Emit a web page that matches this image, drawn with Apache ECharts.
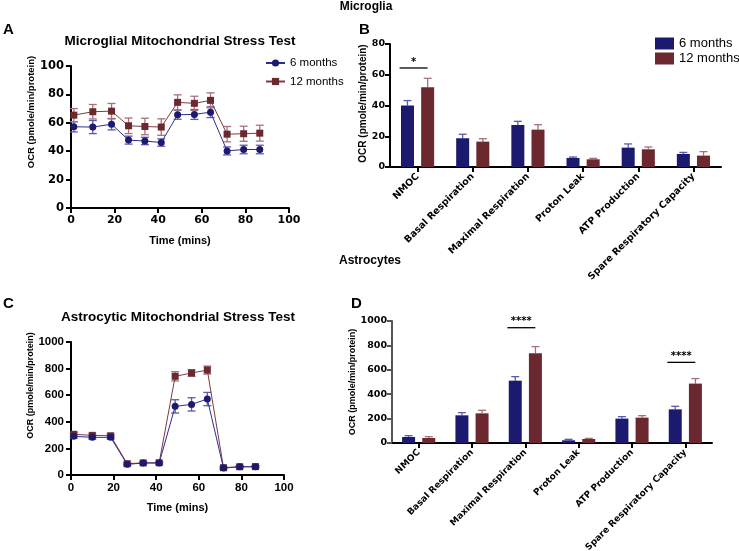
<!DOCTYPE html>
<html><head><meta charset="utf-8">
<script src="https://cdn.jsdelivr.net/npm/echarts@6/dist/echarts.min.js"></script>
<style>html,body{margin:0;padding:0;background:#fff}#c{width:739px;height:551px}</style>
</head><body><div id="c"></div>
<script>
// ---- data ----
const timeMins = [1.3, 10, 18.6, 26.4, 33.9, 41.4, 48.9, 56.6, 64, 71.6, 79.2, 86.6];
const microglia6 = [57.2, 57, 59, 47.8, 47.2, 46.1, 65.7, 65.9, 67.5, 40.2, 41.2, 41.2];
const microglia6Err = [3.6, 4.6, 4, 2.8, 2.6, 2.6, 3.2, 3.5, 3.8, 2.8, 3, 3];
const microglia12 = [65.4, 67.8, 68.2, 57.9, 57.4, 57, 74.4, 73.7, 75.8, 52, 52.3, 52.7];
const microglia12Err = [4.6, 5.1, 5.4, 5.5, 5.8, 5.8, 5.3, 5, 5.3, 5.4, 5.3, 5.6];
const astro6 = [291, 283, 283, 80, 90, 90, 516, 531, 571, 52, 62, 62];
const astro6Err = [15, 14, 14, 10, 8, 8, 50, 50, 50, 8, 8, 8];
const astro12 = [306, 298, 295, 85, 91, 92, 742, 767, 789, 55, 62, 63];
const astro12Err = [15, 12, 12, 8, 8, 8, 35, 25, 30, 8, 8, 8];

const paramCats = ['NMOC', 'Basal Respiration', 'Maximal Respiration', 'Proton Leak', 'ATP Production', 'Spare Respiratory Capacity'];
const mgBar6 = [40, 18.7, 27.3, 5.9, 12.6, 8.5];
const mgBar6Err = [3.2, 2.6, 2.4, 0.6, 2.4, 1];
const mgBar12 = [51.8, 16.5, 24.3, 5, 11.5, 7.4];
const mgBar12Err = [5.9, 1.9, 3.2, 0.6, 1.5, 2.6];
const asBar6 = [49, 227, 511, 22, 200, 276];
const asBar6Err = [11, 22, 33, 8, 16, 25];
const asBar12 = [41, 243, 735, 33, 208, 487];
const asBar12Err = [11, 25, 55, 5, 16, 41];

const sigMicroglia = [[0, 64.4, '*']];
const sigAstro = [[2, 945, '****'], [5, 661, '****']];

const seriesNames = ['6 months', '12 months'];

// ---- styles ----
const BLUE = '#1c1a6e', RED = '#6b282e';
const BLUE_LINE = '#2f2d92', RED_LINE = '#7e3a40';
const BLUE_ERR = '#5c5aac', RED_ERR = '#a8707a';
const ARIAL = '"Liberation Sans", Arial, sans-serif';
const DEJA = '"DejaVu Sans", sans-serif';

const zip = (a, b, c) => a.map((v, i) => [v, b[i], c[i]]);
const idxZip = (b, c) => b.map((v, i) => [i, v, c[i]]);

function lineErr(color) {
  return function (params, api) {
    const x = api.value(0), y = api.value(1), e = api.value(2);
    const t = api.coord([x, y + e]), b = api.coord([x, y - e]);
    const w = 4;
    const st = { stroke: color, lineWidth: 1.3 };
    return { type: 'group', children: [
      { type: 'line', shape: { x1: t[0], y1: t[1], x2: b[0], y2: b[1] }, style: st },
      { type: 'line', shape: { x1: t[0] - w, y1: t[1], x2: t[0] + w, y2: t[1] }, style: st },
      { type: 'line', shape: { x1: b[0] - w, y1: b[1], x2: b[0] + w, y2: b[1] }, style: st }
    ]};
  };
}
function barErr(color, off) {
  return function (params, api) {
    const x = api.value(0), y = api.value(1), e = api.value(2);
    const m = api.coord([x, y]), t = api.coord([x, y + e]);
    const cx = m[0] + off, w = 4;
    const st = { stroke: color, lineWidth: 1.3 };
    return { type: 'group', children: [
      { type: 'line', shape: { x1: cx, y1: m[1], x2: cx, y2: t[1] }, style: st },
      { type: 'line', shape: { x1: cx - w, y1: t[1], x2: cx + w, y2: t[1] }, style: st }
    ]};
  };
}
function sigRender(list) {
  return function (params, api) {
    const x = api.value(0), y = api.value(1);
    const p = api.coord([x, y]);
    return { type: 'group', children: [
      { type: 'line', shape: { x1: p[0] - 18, y1: p[1], x2: p[0] + 10, y2: p[1] }, style: { stroke: '#000', lineWidth: 1.3 } },
      { type: 'text', style: { text: list[params.dataIndex][2], x: p[0] - 4, y: p[1] - 1, align: 'center', verticalAlign: 'bottom', font: 'bold 10px ' + DEJA, fill: '#000' } }
    ]};
  };
}

const axLine = (c) => ({ show: true, lineStyle: { color: c || '#000', width: 2 } });
const axTick = (c) => ({ show: true, length: 5, lineStyle: { color: c || '#000', width: 2 } });
const plain = (v) => String(v);
function valAxis(grid, min, max, interval, label, name, nameGap, nameSize, shiftUp, color) {
  return { type: 'value', gridIndex: grid, min: min, max: max, interval: interval,
    axisLine: axLine(color), axisTick: axTick(color), splitLine: { show: false },
    axisLabel: Object.assign({ color: '#000', fontWeight: 'bold', margin: 7, formatter: plain }, label),
    name: name, nameLocation: 'middle', nameGap: nameGap,
    nameTextStyle: { fontFamily: ARIAL, fontWeight: 'bold', fontSize: nameSize, color: '#000',
      padding: [0, 0, 0, shiftUp ? shiftUp * 2 : 0] } };
}
const tStyle = (size) => ({ fontFamily: ARIAL, fontWeight: 'bold', fontSize: size, color: '#000' });

const chart = echarts.init(document.getElementById('c'), null, { renderer: 'canvas' });
const option = {
  backgroundColor: '#fff',
  animation: false,
  title: [
    { text: 'Microglia', left: 366, top: 1, textAlign: 'center', padding: 0, textStyle: tStyle(12) },
    { text: 'Astrocytes', left: 370, top: 255, textAlign: 'center', padding: 0, textStyle: tStyle(12) },
    { text: 'A', left: 3, top: 22, padding: 0, textStyle: tStyle(15) },
    { text: 'B', left: 359, top: 22, padding: 0, textStyle: tStyle(15) },
    { text: 'C', left: 3, top: 296, padding: 0, textStyle: tStyle(15) },
    { text: 'D', left: 351, top: 296, padding: 0, textStyle: tStyle(15) },
    { text: 'Microglial Mitochondrial Stress Test', left: 180, top: 34, textAlign: 'center', padding: 0, textStyle: tStyle(13.5) },
    { text: 'Astrocytic Mitochondrial Stress Test', left: 178, top: 310, textAlign: 'center', padding: 0, textStyle: tStyle(13.5) }
  ],
  legend: [
    { data: seriesNames, orient: 'vertical', left: 265, top: 57, padding: 0, itemWidth: 19, itemHeight: 9, itemGap: 6.5, selectedMode: false,
      textStyle: { fontFamily: ARIAL, fontSize: 11.5, color: '#000' } },
    { data: [{ name: seriesNames[0], icon: 'rect' }, { name: seriesNames[1], icon: 'rect' }], orient: 'vertical', left: 655, top: 37, padding: 0,
      itemWidth: 19, itemHeight: 12, itemGap: 2, selectedMode: false,
      textStyle: { fontFamily: ARIAL, fontSize: 13, color: '#000' } }
  ],
  grid: [
    { left: 71, top: 66, width: 218, height: 142, outerBoundsMode: 'none', containLabel: false },
    { left: 390, top: 44, width: 331, height: 123, outerBoundsMode: 'none', containLabel: false },
    { left: 71, top: 342, width: 213, height: 133, outerBoundsMode: 'none', containLabel: false },
    { left: 392, top: 321, width: 320, height: 122, outerBoundsMode: 'none', containLabel: false }
  ],
  xAxis: [
    valAxis(0, 0, 100, 20, { fontFamily: DEJA, fontSize: 11, margin: 7 }, 'Time (mins)', 27, 11),
    { type: 'category', gridIndex: 1, data: paramCats, axisLine: axLine(), axisTick: Object.assign(axTick(), { alignWithLabel: true }),
      axisLabel: { rotate: 45, interval: 0, fontFamily: DEJA, fontWeight: 'bold', fontSize: 9.5, color: '#000', margin: 8 } },
    valAxis(2, 0, 100, 20, { fontFamily: ARIAL, fontSize: 11.5, margin: 7 }, 'Time (mins)', 27, 11),
    { type: 'category', gridIndex: 3, data: paramCats, axisLine: axLine(), axisTick: Object.assign(axTick(), { alignWithLabel: true }),
      axisLabel: { rotate: 45, interval: 0, fontFamily: DEJA, fontWeight: 'bold', fontSize: 9, color: '#000', margin: 8 } }
  ],
  yAxis: [
    valAxis(0, 0, 100, 20, { fontFamily: DEJA, fontSize: 11.5 }, 'OCR (pmole/min/protein)', 22, 9.5, 25),
    valAxis(1, 0, 80, 20, { fontFamily: DEJA, fontSize: 9.5, margin: 5 }, 'OCR (pmole/min/protein)', 11, 10, 2),
    valAxis(2, 0, 1000, 200, { fontFamily: ARIAL, fontSize: 11.5 }, 'OCR (pmole/min/protein)', 36, 9, 23),
    valAxis(3, 0, 1000, 200, { fontFamily: DEJA, fontSize: 9.5, margin: 5 }, 'OCR (pmole/min/protein)', 17, 9, 0, '#555')
  ],
  series: [
    { type: 'line', name: seriesNames[0], xAxisIndex: 0, yAxisIndex: 0, data: timeMins.map((t, i) => [t, microglia6[i]]),
      symbol: 'circle', symbolSize: 7, itemStyle: { color: BLUE }, lineStyle: { color: BLUE_LINE, width: 1 }, z: 4 },
    { type: 'line', name: seriesNames[1], xAxisIndex: 0, yAxisIndex: 0, data: timeMins.map((t, i) => [t, microglia12[i]]),
      symbol: 'rect', symbolSize: 7, itemStyle: { color: RED }, lineStyle: { color: RED_LINE, width: 1 }, z: 4 },
    { type: 'custom', name: 'errA6', xAxisIndex: 0, yAxisIndex: 0, data: zip(timeMins, microglia6, microglia6Err), encode: { x: 0, y: 1 }, renderItem: lineErr(BLUE_ERR), z: 3 },
    { type: 'custom', name: 'errA12', xAxisIndex: 0, yAxisIndex: 0, data: zip(timeMins, microglia12, microglia12Err), encode: { x: 0, y: 1 }, renderItem: lineErr(RED_ERR), z: 3 },
    { type: 'line', name: seriesNames[0], xAxisIndex: 2, yAxisIndex: 2, data: timeMins.map((t, i) => [t, astro6[i]]),
      symbol: 'circle', symbolSize: 7, itemStyle: { color: BLUE }, lineStyle: { color: BLUE_LINE, width: 1 }, z: 5 },
    { type: 'line', name: seriesNames[1], xAxisIndex: 2, yAxisIndex: 2, data: timeMins.map((t, i) => [t, astro12[i]]),
      symbol: 'rect', symbolSize: 7, itemStyle: { color: RED }, lineStyle: { color: RED_LINE, width: 1 }, z: 4 },
    { type: 'custom', name: 'errC6', xAxisIndex: 2, yAxisIndex: 2, data: zip(timeMins, astro6, astro6Err), encode: { x: 0, y: 1 }, renderItem: lineErr(BLUE_ERR), z: 3 },
    { type: 'custom', name: 'errC12', xAxisIndex: 2, yAxisIndex: 2, data: zip(timeMins, astro12, astro12Err), encode: { x: 0, y: 1 }, renderItem: lineErr(RED_ERR), z: 3 },
    { type: 'bar', name: seriesNames[0], xAxisIndex: 1, yAxisIndex: 1, data: mgBar6, barWidth: 13, barGap: '55%', itemStyle: { color: BLUE }, z: 2 },
    { type: 'bar', name: seriesNames[1], xAxisIndex: 1, yAxisIndex: 1, data: mgBar12, barWidth: 13, barGap: '55%', itemStyle: { color: RED }, z: 2 },
    { type: 'custom', name: 'errB6', xAxisIndex: 1, yAxisIndex: 1, data: idxZip(mgBar6, mgBar6Err), encode: { x: 0, y: 1 }, renderItem: barErr(BLUE_ERR, -10.1), z: 1 },
    { type: 'custom', name: 'errB12', xAxisIndex: 1, yAxisIndex: 1, data: idxZip(mgBar12, mgBar12Err), encode: { x: 0, y: 1 }, renderItem: barErr(RED_ERR, 10.1), z: 1 },
    { type: 'custom', name: 'sigB', xAxisIndex: 1, yAxisIndex: 1, data: sigMicroglia.map(s => [s[0], s[1]]), encode: { x: 0, y: 1 }, renderItem: sigRender(sigMicroglia), z: 5 },
    { type: 'bar', name: seriesNames[0], xAxisIndex: 3, yAxisIndex: 3, data: asBar6, barWidth: 13, barGap: '55%', itemStyle: { color: BLUE }, z: 2 },
    { type: 'bar', name: seriesNames[1], xAxisIndex: 3, yAxisIndex: 3, data: asBar12, barWidth: 13, barGap: '55%', itemStyle: { color: RED }, z: 2 },
    { type: 'custom', name: 'errD6', xAxisIndex: 3, yAxisIndex: 3, data: idxZip(asBar6, asBar6Err), encode: { x: 0, y: 1 }, renderItem: barErr(BLUE_ERR, -10.1), z: 1 },
    { type: 'custom', name: 'errD12', xAxisIndex: 3, yAxisIndex: 3, data: idxZip(asBar12, asBar12Err), encode: { x: 0, y: 1 }, renderItem: barErr(RED_ERR, 10.1), z: 1 },
    { type: 'custom', name: 'sigD', xAxisIndex: 3, yAxisIndex: 3, data: sigAstro.map(s => [s[0], s[1]]), encode: { x: 0, y: 1 }, renderItem: sigRender(sigAstro), z: 5 }
  ]
};
chart.setOption(option);
</script></body></html>
